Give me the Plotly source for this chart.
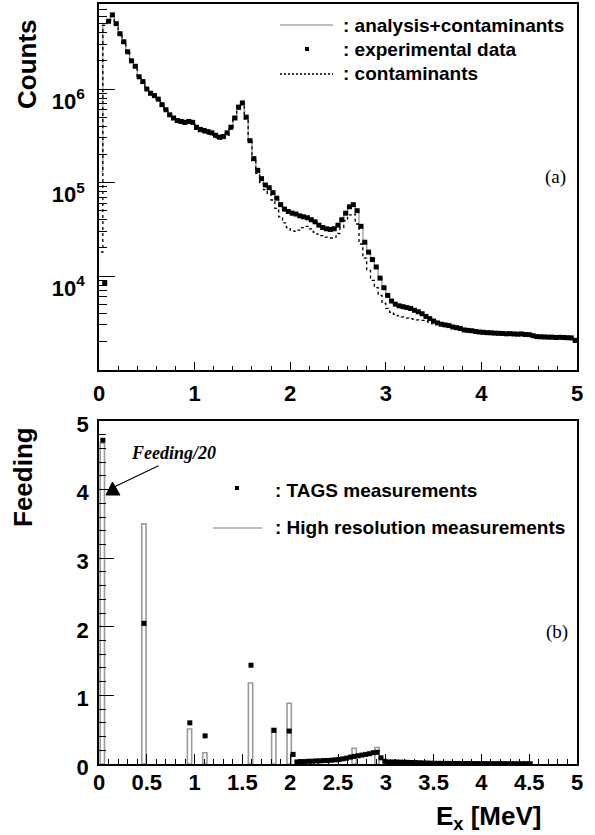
import plotly.graph_objects as go

# ---------------- data: panel (a) ----------------
E_START = 0.02
E_STEP = 0.04
counts_data = [
    None, 8.5e3, 5.3e6, 6.2e6, 5.0e6, 3.9e6, 3.2e6, 2.5e6, 2.0e6, 1.75e6,
    1.35e6, 1.2e6, 1.0e6, 9.0e5, 8.5e5, 7.8e5, 6.8e5, 6.0e5, 5.3e5, 4.9e5,
    4.6e5, 4.5e5, 4.4e5, 4.5e5, 4.4e5, 3.9e5, 3.7e5, 3.6e5, 3.5e5, 3.4e5,
    3.2e5, 3.05e5, 3.1e5, 3.4e5, 3.9e5, 4.9e5, 6.4e5, 7.1e5, 5.0e5, 2.8e5,
    1.8e5, 1.35e5, 1.1e5, 9.4e4, 8.8e4, 7.8e4, 6.8e4, 5.8e4, 5.2e4, 4.9e4,
    4.7e4, 4.6e4, 4.4e4, 4.3e4, 4.2e4, 4.0e4, 3.8e4, 3.5e4, 3.3e4, 3.2e4,
    3.15e4, 3.2e4, 3.5e4, 4.0e4, 4.7e4, 5.5e4, 5.8e4, 5.0e4, 3.4e4, 2.3e4,
    1.8e4, 1.5e4, 1.25e4, 9.5e3, 7.5e3, 6.2e3, 5.4e3, 5.0e3, 4.8e3, 4.7e3,
    4.6e3, 4.5e3, 4.3e3, 4.15e3, 3.95e3, 3.7e3, 3.5e3, 3.3e3, 3.15e3, 3.05e3,
    3.0e3, 2.95e3, 2.85e3, 2.8e3, 2.75e3, 2.65e3, 2.62e3, 2.6e3, 2.55e3, 2.52e3,
    2.5e3, 2.48e3, 2.47e3, 2.45e3, 2.44e3, 2.43e3, 2.41e3, 2.42e3, 2.40e3, 2.39e3,
    2.40e3, 2.37e3, 2.36e3, 2.30e3, 2.25e3, 2.24e3, 2.23e3, 2.22e3, 2.22e3, 2.20e3,
    2.21e3, 2.20e3, 2.19e3, 2.18e3, 2.05e3,
]
counts_contaminants = [
    1.8e4, 4.8e6, 5.2e6, 6.0e6, 4.9e6, 3.8e6, 3.1e6, 2.4e6, 1.95e6, 1.7e6,
    1.3e6, 1.15e6, 9.7e5, 8.7e5, 8.2e5, 7.5e5, 6.6e5, 5.8e5, 5.1e5, 4.7e5,
    4.4e5, 4.3e5, 4.2e5, 4.3e5, 4.2e5, 3.7e5, 3.5e5, 3.4e5, 3.3e5, 3.2e5,
    3.0e5, 2.9e5, 2.95e5, 3.2e5, 3.7e5, 4.7e5, 6.1e5, 6.8e5, 4.8e5, 2.7e5,
    1.7e5, 1.25e5, 1.0e5, 8.4e4, 7.6e4, 6.5e4, 5.3e4, 4.3e4, 3.7e4, 3.3e4,
    3.1e4, 3.0e4, 3.1e4, 3.3e4, 3.4e4, 3.2e4, 2.95e4, 2.8e4, 2.7e4, 2.6e4,
    2.55e4, 2.6e4, 2.85e4, 3.3e4, 3.9e4, 4.5e4, 4.6e4, 3.6e4, 2.2e4, 1.55e4,
    1.15e4, 9.0e3, 7.5e3, 6.2e3, 5.1e3, 4.5e3, 4.1e3, 3.9e3, 3.75e3, 3.65e3,
    3.55e3, 3.5e3, 3.45e3, 3.4e3, 3.35e3, 3.3e3, 3.2e3, 3.1e3, 3.05e3, 3.0e3,
    2.95e3, 2.9e3, 2.82e3, 2.77e3, 2.72e3, 2.63e3, 2.6e3, 2.58e3, 2.53e3, 2.5e3,
    2.48e3, 2.46e3, 2.45e3, 2.43e3, 2.42e3, 2.41e3, 2.39e3, 2.40e3, 2.38e3, 2.37e3,
    2.38e3, 2.35e3, 2.34e3, 2.28e3, 2.23e3, 2.22e3, 2.21e3, 2.20e3, 2.20e3, 2.18e3,
    2.19e3, 2.18e3, 2.17e3, 2.16e3, 2.03e3,
]
counts_analysis = [
    1.3e5, 5.0e6, 5.4e6, 6.1e6, 5.0e6, 3.9e6, 3.2e6, 2.5e6, 2.0e6, 1.75e6,
    1.35e6, 1.2e6, 1.0e6, 9.0e5, 8.5e5, 7.7e5, 6.8e5, 6.0e5, 5.3e5, 4.8e5,
    4.6e5, 4.5e5, 4.4e5, 4.45e5, 4.35e5, 3.9e5, 3.7e5, 3.6e5, 3.5e5, 3.35e5,
    3.2e5, 3.05e5, 3.1e5, 3.4e5, 3.9e5, 5.0e5, 6.5e5, 7.0e5, 4.9e5, 2.8e5,
    1.8e5, 1.35e5, 1.1e5, 9.5e4, 8.8e4, 7.7e4, 6.7e4, 5.8e4, 5.2e4, 4.9e4,
    4.7e4, 4.6e4, 4.4e4, 4.3e4, 4.2e4, 4.0e4, 3.8e4, 3.5e4, 3.3e4, 3.2e4,
    3.15e4, 3.2e4, 3.5e4, 4.0e4, 4.7e4, 5.5e4, 5.7e4, 5.0e4, 3.4e4, 2.3e4,
    1.8e4, 1.5e4, 1.25e4, 9.5e3, 7.5e3, 6.2e3, 5.4e3, 5.0e3, 4.8e3, 4.7e3,
    4.6e3, 4.5e3, 4.3e3, 4.15e3, 3.95e3, 3.7e3, 3.5e3, 3.3e3, 3.15e3, 3.05e3,
    3.0e3, 2.95e3, 2.85e3, 2.8e3, 2.75e3, 2.65e3, 2.62e3, 2.6e3, 2.55e3, 2.52e3,
    2.5e3, 2.48e3, 2.47e3, 2.45e3, 2.44e3, 2.43e3, 2.41e3, 2.41e3, 2.40e3, 2.39e3,
    2.39e3, 2.37e3, 2.35e3, 2.30e3, 2.25e3, 2.24e3, 2.23e3, 2.22e3, 2.21e3, 2.20e3,
    2.20e3, 2.20e3, 2.19e3, 2.17e3, 2.08e3,
]

# ---------------- data: panel (b) ----------------
hr_energy = [0.035, 0.47, 0.947, 1.107, 1.585, 1.828, 1.989, 2.669, 2.908]
hr_feeding = [4.68, 3.5, 0.51, 0.165, 1.18, 0.52, 0.885, 0.23, 0.24]

tags_peak_energy = [0.04, 0.47, 0.95, 1.11, 1.59, 1.83, 1.99, 2.03]
tags_peak_feeding = [4.72, 2.05, 0.60, 0.41, 1.44, 0.49, 0.48, 0.14]
TAGS_CONT_START = 2.07
tags_cont_feeding = [
    0.03, 0.035, 0.035, 0.04, 0.04, 0.045, 0.045, 0.05, 0.05, 0.055,
    0.06, 0.065, 0.075, 0.085, 0.10, 0.11, 0.12, 0.13, 0.14, 0.15,
    0.165, 0.17, 0.09, 0.04, 0.03, 0.03, 0.028, 0.027, 0.025, 0.024,
    0.022, 0.02, 0.018, 0.016, 0.014, 0.012, 0.010, 0.010, 0.009, 0.009,
    0.008, 0.008, 0.008, 0.007, 0.007, 0.007, 0.006, 0.006, 0.006, 0.006,
    0.005, 0.005, 0.005, 0.005, 0.005, 0.004, 0.004, 0.004, 0.004, 0.004,
    0.004, 0.004,
]

x_ticks_top = [0, 1, 2, 3, 4, 5]
y_ticks_top = [1e4, 1e5, 1e6]
y_ticks_top_text = ["10<sup>4</sup>", "10<sup>5</sup>", "10<sup>6</sup>"]

energies = [round(E_START + E_STEP * i, 3) for i in range(len(counts_data))]
tags_cont_energy = [round(TAGS_CONT_START + E_STEP * i, 3) for i in range(len(tags_cont_feeding))]
tags_energy = tags_peak_energy + tags_cont_energy
tags_feeding = tags_peak_feeding + tags_cont_feeding

# ---------------- geometry helpers ----------------
W, H = 595, 835
PL, PR, PT, PB = 99, 577, 4, 764


def px(xp):
    return (xp - PL) / (PR - PL)


def py(yp):
    return (PB - yp) / (PB - PT)


FONT = "Liberation Sans"
SERIF = "Liberation Serif"
GRAY = "#a8a8a8"

fig = go.Figure()

# panel (a)
fig.add_trace(go.Scatter(x=energies, y=counts_analysis, mode="lines",
                         line=dict(shape="hvh", color=GRAY, width=1.5),
                         xaxis="x", yaxis="y", connectgaps=True))
fig.add_trace(go.Scatter(x=energies, y=counts_contaminants, mode="lines",
                         line=dict(shape="hvh", color="black", width=1.3, dash="3px,3px"),
                         xaxis="x", yaxis="y"))
fig.add_trace(go.Scatter(x=energies, y=counts_data, mode="markers",
                         marker=dict(symbol="square", size=5, color="black"),
                         xaxis="x", yaxis="y"))

# panel (b)
fig.add_trace(go.Bar(x=hr_energy, y=hr_feeding, width=0.045,
                     marker=dict(color="rgba(0,0,0,0)", line=dict(color="#9a9a9a", width=1.6)),
                     xaxis="x2", yaxis="y2"))
fig.add_trace(go.Scatter(x=tags_energy, y=tags_feeding, mode="markers",
                         marker=dict(symbol="square", size=5, color="black"),
                         xaxis="x2", yaxis="y2"))

tickfont = dict(family=FONT, size=22, color="black", weight="bold")
common = dict(showline=True, mirror=True, linecolor="black", linewidth=1.5,
              showgrid=False, zeroline=False, ticks="inside", tickcolor="black",
              tickwidth=1.2, tickfont=tickfont, automargin=False)

minor_log = [m * 10 ** e for e in range(3, 7) for m in range(2, 10) if m * 10 ** e < 8e6]

fig.update_layout(
    width=W, height=H,
    margin=dict(l=PL, r=W - PR, t=PT, b=H - PB, autoexpand=False),
    paper_bgcolor="white", plot_bgcolor="white",
    showlegend=False,
    xaxis=dict(domain=[0, 1], anchor="y", range=[0, 5], tickmode="array",
               tickvals=x_ticks_top, ticklen=8, ticklabelstandoff=3,
               minor=dict(ticks="inside", ticklen=4, dtick=0.2, tick0=0,
                          tickcolor="black", tickwidth=1), **common),
    yaxis=dict(domain=[py(370), 1], anchor="x", type="log", range=[2.995, 6.909],
               tickmode="array", tickvals=y_ticks_top, ticktext=y_ticks_top_text,
               ticklen=16, ticklabelstandoff=8, ticklabelshift=12,
               minor=dict(ticks="inside", ticklen=8, tickmode="array", tickvals=minor_log,
                          tickcolor="black", tickwidth=1), **common),
    xaxis2=dict(domain=[0, 1], anchor="y2", range=[0, 5], tick0=0, dtick=0.5,
                ticklen=10, ticklabelstandoff=-2,
                minor=dict(ticks="inside", ticklen=5, dtick=0.1, tick0=0,
                           tickcolor="black", tickwidth=1), **common),
    yaxis2=dict(domain=[0, py(421)], anchor="x2", range=[0, 5], tick0=0, dtick=1,
                ticklen=15, ticklabelstandoff=4, ticklabelshift=3,
                minor=dict(ticks="inside", ticklen=7, dtick=0.2, tick0=0,
                           tickcolor="black", tickwidth=1), **common),
)

annotations = []
shapes = []


def text(xp, yp, s, size=16, family=FONT, xanchor="left", angle=0):
    annotations.append(dict(x=px(xp), y=py(yp), xref="paper", yref="paper", text=s,
                            showarrow=False, xanchor=xanchor, yanchor="middle",
                            textangle=angle,
                            font=dict(family=family, size=size, color="black")))


# axis titles
text(27, 64, "<b>Counts</b>", size=26, xanchor="center", angle=-90)
text(23, 477, "<b>Feeding</b>", size=26, xanchor="center", angle=-90)
text(543, 818, "<b>E<sub>x</sub> [MeV]</b>", size=26, xanchor="right")

# panel labels
text(568, 177, "(a)", size=19, family=SERIF, xanchor="right")
text(570, 632, "(b)", size=19, family=SERIF, xanchor="right")

# legend (a)
shapes.append(dict(type="line", xref="paper", yref="paper", x0=px(280), x1=px(333),
                   y0=py(25), y1=py(25), line=dict(color=GRAY, width=1.5)))
shapes.append(dict(type="rect", xref="paper", yref="paper", x0=px(305), x1=px(309),
                   y0=py(47), y1=py(51), fillcolor="black", line=dict(width=0)))
shapes.append(dict(type="line", xref="paper", yref="paper", x0=px(280), x1=px(333),
                   y0=py(74), y1=py(74), line=dict(color="black", width=1.3, dash="2px,2px")))
text(341, 26, "<b>: analysis+contaminants</b>", size=19)
text(341, 50, "<b>: experimental data</b>", size=19)
text(341, 74, "<b>: contaminants</b>", size=19)

# legend (b)
shapes.append(dict(type="rect", xref="paper", yref="paper", x0=px(235), x1=px(239),
                   y0=py(486), y1=py(490), fillcolor="black", line=dict(width=0)))
shapes.append(dict(type="line", xref="paper", yref="paper", x0=px(213), x1=px(262),
                   y0=py(528), y1=py(528), line=dict(color=GRAY, width=1.5)))
text(273, 490, "<b>: TAGS measurements</b>", size=19)
text(273, 528, "<b>: High resolution measurements</b>", size=19)

# Feeding/20 note with arrow
text(173, 453, "<b><i>Feeding/20</i></b>", size=18, family=SERIF, xanchor="center")
annotations.append(dict(x=px(114), y=py(487), xref="paper", yref="paper", text="",
                        showarrow=True, arrowhead=0, arrowwidth=1.2, arrowcolor="black",
                        ax=46, ay=-22, axref="pixel", ayref="pixel", standoff=0))
shapes.append(dict(type="path", xref="paper", yref="paper",
                   path=f"M {px(106)},{py(495)} L {px(120)},{py(495)} L {px(112.5)},{py(482)} Z",
                   fillcolor="black", line=dict(color="black", width=1)))

fig.update_layout(annotations=annotations, shapes=shapes)

fig.write_html("out.html")
